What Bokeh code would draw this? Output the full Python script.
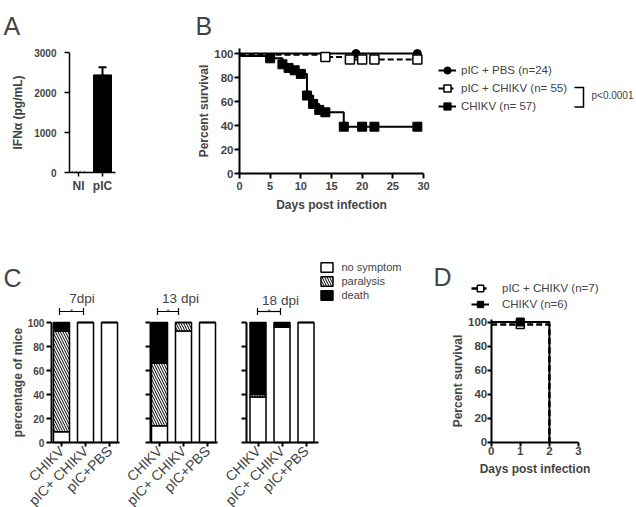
import math
from bokeh.plotting import figure
from bokeh.models import (FixedTicker, Label, Legend, LegendItem, Whisker, TeeHead,
                          Arrow, ColumnDataSource, Range1d, LinearAxis)
from bokeh.embed import file_html
from bokeh.resources import INLINE

FONT = "Liberation Sans"

# ---------------- data ----------------
# Panel A
a_groups = ["NI", "pIC"]
a_pos = [1, 2]
a_ifn = [30, 2440]
a_sem = [0, 190]

# Panel B (Kaplan-Meier steps and censor marks)
b_chikv_t = [0, 5, 7, 8, 9, 10, 11, 12, 13, 14, 17, 29]
b_chikv_s = [98, 96, 91, 88, 86, 83, 65, 58, 53, 51, 39, 39]
b_chikv_mark_t = [5, 7, 8, 9, 10, 11, 12, 13, 14, 17, 20, 22, 29]
b_chikv_mark_s = [96, 91, 88, 86, 83, 65, 58, 53, 51, 39, 39, 39, 39]
b_pic_chikv_t = [0, 14, 18, 29]
b_pic_chikv_s = [99, 97, 95, 95]
b_pic_chikv_mark_t = [14, 18, 20, 22, 29]
b_pic_chikv_mark_s = [97, 95, 95, 95, 95]
b_pbs_t = [0, 29]
b_pbs_s = [100, 100]
b_pbs_mark_t = [19, 29]
b_pbs_mark_s = [100, 100]
b_labels = ["pIC + PBS (n=24)", "pIC + CHIKV (n= 55)", "CHIKV (n= 57)"]

# Panel C
c_groups = ["CHIKV", "pIC+ CHIKV", "pIC+PBS"]
c_pos = [1, 2, 3]
c_titles = ["7dpi", "13 dpi", "18 dpi"]
c7_no_symptom = [9, 100, 100]
c7_paralysis = [84, 0, 0]
c7_death = [7, 0, 0]
c13_no_symptom = [14, 93, 100]
c13_paralysis = [52, 7, 0]
c13_death = [34, 0, 0]
c18_no_symptom = [38, 96, 100]
c18_paralysis = [2, 0, 0]
c18_death = [60, 4, 0]
c_legend = ["no symptom", "paralysis", "death"]

# Panel D
d_chikv_t = [0, 2]
d_chikv_s = [100, 0]
d_chikv_mark_t = [1]
d_chikv_mark_s = [100]
d_pic_chikv_t = [0, 2]
d_pic_chikv_s = [98, 0]
d_pic_chikv_mark_t = [1]
d_pic_chikv_mark_s = [98]
d_labels = ["pIC + CHIKV (n=7)", "CHIKV (n=6)"]

# ---------------- layout helpers (page pixel geometry) ----------------
W, H = 636, 507
LEFT, TOP = 0, 0
BOTTOM = TOP + H


def PX(x):
    return x - LEFT


def PY(y):
    return BOTTOM - y


def rng_x(d0, p0, d1, p1):
    s = (p1 - p0) / (d1 - d0)
    return Range1d(d0 + (LEFT - p0) / s, d0 + (LEFT + W - p0) / s)


def rng_y(d0, p0, d1, p1):
    s = (p1 - p0) / (d1 - d0)
    return Range1d(d0 + (BOTTOM - p0) / s, d0 + (TOP - p0) / s)


xr = {"ax": rng_x(1, 78, 2, 102), "bx": rng_x(0, 239, 30, 423),
      "c1x": rng_x(1, 61, 2, 85), "c2x": rng_x(1, 159, 2, 183),
      "c3x": rng_x(1, 257.5, 2, 281.5), "dx": rng_x(0, 490.7, 3, 578)}
yr = {"ay": rng_y(0, 172, 3000, 52), "by": rng_y(0, 173, 100, 53),
      "cy": rng_y(0, 442, 100, 322), "dy": rng_y(0, 441.7, 100, 321.5)}

p = figure(width=W, height=H, x_range=Range1d(0, W), y_range=Range1d(0, H),
           x_axis_location=None, y_axis_location=None, min_border=0,
           output_backend="svg", toolbar_location=None,
           extra_x_ranges=xr, extra_y_ranges=yr)
p.grid.visible = False
p.outline_line_color = None


def axis(side, xname, yname, fixed, bounds, ticks, label_size="11px", lw=2,
         tick_out=5, standoff=3, label=None, label_standoff=5, minor_only=False):
    ax = LinearAxis(x_range_name=xname, y_range_name=yname, fixed_location=fixed,
                    bounds=bounds)
    if minor_only:
        ax.ticker = FixedTicker(ticks=[], minor_ticks=ticks)
        ax.minor_tick_out = tick_out
        ax.minor_tick_in = 0
        ax.minor_tick_line_width = lw
        ax.minor_tick_line_color = "black"
    else:
        ax.ticker = FixedTicker(ticks=ticks)
        ax.minor_tick_line_color = None
    ax.axis_line_width = lw
    ax.major_tick_line_width = lw
    ax.major_tick_out = tick_out
    ax.major_tick_in = 0
    ax.major_label_text_font = FONT
    ax.major_label_text_font_style = "bold"
    ax.major_label_text_font_size = label_size
    ax.major_label_standoff = standoff
    ax.axis_label_text_font = FONT
    ax.axis_label_text_font_style = "bold"
    ax.axis_label_text_font_size = "12px"
    ax.axis_label_standoff = label_standoff
    if label:
        ax.axis_label = label
    p.add_layout(ax, side)
    return ax


def text(x, y, t, size, align="left", baseline="alphabetic", style="normal"):
    p.add_layout(Label(x=PX(x), y=PY(y), text=t, text_font=FONT, text_font_size=size,
                       text_align=align, text_baseline=baseline, text_font_style=style))


# ---------------- Panel A ----------------
a_bar = ColumnDataSource(dict(x=a_pos[1:], top=a_ifn[1:]))
p.vbar(x="x", top="top", width=0.75, source=a_bar, fill_color="black", line_color="black",
       x_range_name="ax", y_range_name="ay")
p.vbar(x=a_pos[:1], top=a_ifn[:1], width=0.6, fill_color=None, line_color="#999999",
       line_dash="2 2", line_width=1.2, x_range_name="ax", y_range_name="ay")
err_src = ColumnDataSource(dict(base=a_pos[1:], lower=a_ifn[1:],
                                upper=[m + s for m, s in zip(a_ifn[1:], a_sem[1:])]))
p.add_layout(Whisker(source=err_src, base="base", lower="lower", upper="upper",
                     dimension="height", lower_head=None,
                     upper_head=TeeHead(size=8, line_width=2), line_width=2,
                     x_range_name="ax", y_range_name="ay"))
axis("left", "ax", "ay", 0.625, (0, 3000), [0, 1000, 2000, 3000], label_size="10px",
     lw=1.5, standoff=8, label="IFNα (pg/mL)", label_standoff=6)
xa = axis("below", "ax", "ay", 0, (0.625, 2.542), a_pos, label_size="12px", lw=1.5,
          tick_out=4, standoff=2)
xa.major_label_overrides = {q: g for q, g in zip(a_pos, a_groups)}
text(3, 25, "A", "25px")

# ---------------- Panel B ----------------
kw_b = dict(x_range_name="bx", y_range_name="by")
l_pbs = p.step(b_pbs_t, b_pbs_s, mode="after", line_color="black", line_width=2, **kw_b)
m_pbs = p.scatter(b_pbs_mark_t, b_pbs_mark_s, marker="circle", size=8,
                  fill_color="black", line_color="black", **kw_b)
l_pc = p.step(b_pic_chikv_t, b_pic_chikv_s, mode="after", line_color="black",
              line_width=2, line_dash="6 3", **kw_b)
m_pc = p.scatter(b_pic_chikv_mark_t, b_pic_chikv_mark_s, marker="square", size=9,
                 fill_color="white", line_color="black", line_width=1.5, **kw_b)
l_ch = p.step(b_chikv_t, b_chikv_s, mode="after", line_color="black", line_width=2, **kw_b)
m_ch = p.scatter(b_chikv_mark_t, b_chikv_mark_s, marker="square", size=9,
                 fill_color="black", line_color="black", **kw_b)
axis("left", "bx", "by", 0, (0, 104), [0, 20, 40, 60, 80, 100], label_size="11.5px",
     standoff=1, label="Percent survival", label_standoff=0)
axis("below", "bx", "by", 0, (0, 30), [0, 5, 10, 15, 20, 25, 30], label_size="11px",
     standoff=3, label="Days post infection", label_standoff=5)
leg_b = Legend(items=[LegendItem(label=b_labels[0], renderers=[l_pbs, m_pbs]),
                      LegendItem(label=b_labels[1], renderers=[l_pc, m_pc]),
                      LegendItem(label=b_labels[2], renderers=[l_ch, m_ch])],
               location=(PX(438), PY(115)), padding=0, margin=0, spacing=0,
               glyph_width=18, glyph_height=18, label_height=18, label_standoff=5,
               label_text_font=FONT, label_text_font_size="11.5px",
               border_line_color=None, background_fill_alpha=0)
p.add_layout(leg_b)
for xs, ys, xe, ye in [(574, 87, 583.5, 87), (583, 86.5, 583, 107), (574, 106.5, 583.5, 106.5)]:
    p.add_layout(Arrow(x_start=PX(xs), y_start=PY(ys), x_end=PX(xe), y_end=PY(ye),
                       end=None, line_width=1.5, line_color="black"))
text(591, 95, "p<0.0001", "10px", baseline="middle")
text(195, 25, "B", "25px")


# ---------------- Panel C ----------------
def c_panel(xname, no_s, par, death, yfix, xbounds, first):
    src = ColumnDataSource(dict(x=c_pos, no=no_s, par=par, death=death))
    rs = p.vbar_stack(["no", "par", "death"], x="x", width=0.667, source=src,
                      fill_color=["white", "white", "black"], line_color="black",
                      line_width=1.5, hatch_pattern=[None, "\\", None],
                      hatch_color="black", hatch_scale=5, hatch_weight=1,
                      x_range_name=xname, y_range_name="cy")
    if first:
        axis("left", xname, "cy", yfix, (0, 100), [0, 20, 40, 60, 80, 100],
             label_size="10px", standoff=2, label="percentage of mice", label_standoff=0)
    else:
        axis("left", xname, "cy", yfix, (0, 100), [0, 20, 40, 60, 80, 100], minor_only=True)
    xa = axis("below", xname, "cy", 0, xbounds, c_pos, label_size="14px", tick_out=4,
              standoff=2)
    xa.major_label_overrides = {q: g for q, g in zip(c_pos, c_groups)}
    xa.major_label_orientation = math.pi / 4
    xa.major_label_text_font_style = "normal"
    return rs


c_panel("c1x", c7_no_symptom, c7_paralysis, c7_death, 0.58, (0.58, 3.42), True)
c_panel("c2x", c13_no_symptom, c13_paralysis, c13_death, 0.62, (0.62, 3.42), False)
rs3 = c_panel("c3x", c18_no_symptom, c18_paralysis, c18_death, 0.5, (0.5, 3.5), False)

for (cx, by, title), (lo, hi) in zip([(81.5, 298, c_titles[0]), (180, 298, c_titles[1]),
                                      (280, 300, c_titles[2])],
                                     [(59, 83), (157, 178), (257, 280)]):
    text(cx, by, title, "13.5px", align="center")
    wsrc = ColumnDataSource(dict(base=[PY(311)], lower=[PX(lo)], upper=[PX(hi)]))
    p.add_layout(Whisker(source=wsrc, base="base", lower="lower", upper="upper",
                         dimension="width", lower_head=TeeHead(size=7, line_width=1.2),
                         upper_head=TeeHead(size=7, line_width=1.2), line_width=1.2))
    text((lo + hi) / 2, 310.5, "*", "8px", align="center")

leg_c = Legend(items=[LegendItem(label=c_legend[i], renderers=[rs3[i]]) for i in range(3)],
               location=(PX(318.5), PY(300.5)), padding=0, margin=0, spacing=2,
               glyph_width=15, glyph_height=12, label_height=12, label_standoff=8,
               label_text_font=FONT, label_text_font_size="11px",
               border_line_color=None, background_fill_alpha=0)
p.add_layout(leg_c)
text(3, 277, "C", "25px")

# ---------------- Panel D ----------------
kw_d = dict(x_range_name="dx", y_range_name="dy")
l_dpc = p.step(d_pic_chikv_t, d_pic_chikv_s, mode="after", line_color="black",
               line_width=2.5, line_dash="6 3", **kw_d)
m_dpc = p.scatter(d_pic_chikv_mark_t, d_pic_chikv_mark_s, marker="square", size=8,
                  fill_color="white", line_color="black", line_width=1.5, **kw_d)
l_dch = p.step(d_chikv_t, d_chikv_s, mode="after", line_color="black", line_width=2, **kw_d)
m_dch = p.scatter(d_chikv_mark_t, d_chikv_mark_s, marker="square", size=8,
                  fill_color="black", line_color="black", **kw_d)
axis("left", "dx", "dy", 0, (0, 102), [0, 20, 40, 60, 80, 100], label_size="11.5px",
     tick_out=4, standoff=0, label="Percent survival", label_standoff=0)
axis("below", "dx", "dy", 0, (0, 3), [0, 1, 2, 3], label_size="11.5px", tick_out=4,
     standoff=1, label="Days post infection", label_standoff=3)
leg_d = Legend(items=[LegendItem(label=d_labels[0], renderers=[l_dpc, m_dpc]),
                      LegendItem(label=d_labels[1], renderers=[l_dch, m_dch])],
               location=(PX(471), PY(312)), padding=0, margin=0, spacing=0,
               glyph_width=18, glyph_height=16, label_height=16, label_standoff=13,
               label_text_font=FONT, label_text_font_size="11.5px",
               border_line_color=None, background_fill_alpha=0)
p.add_layout(leg_d)
text(433, 276, "D", "25px")

open("out.html", "w").write(file_html(p, INLINE))
